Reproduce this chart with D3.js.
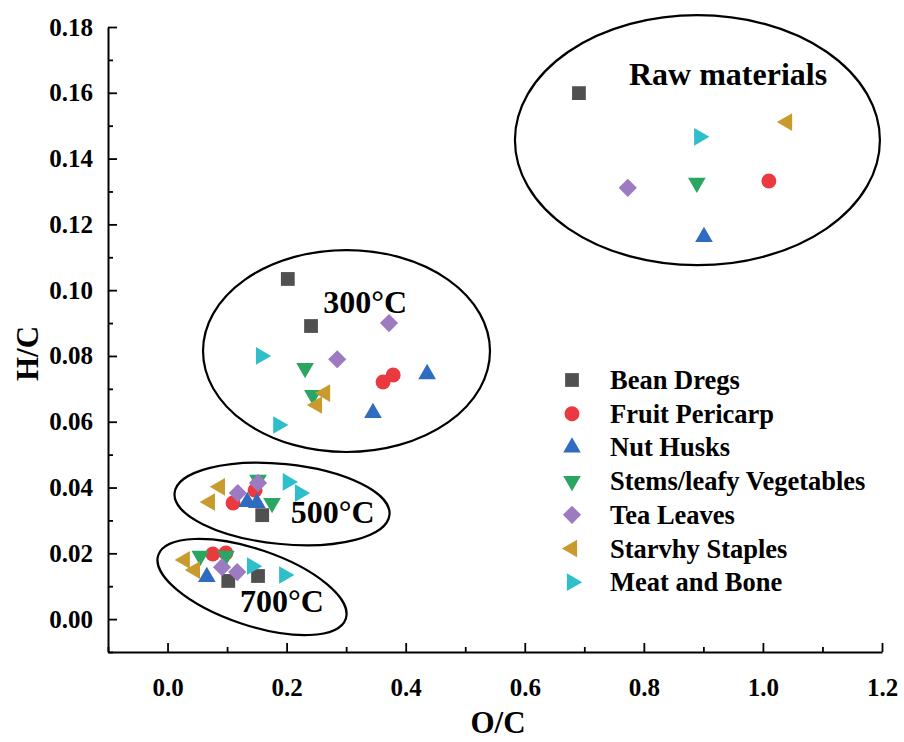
<!DOCTYPE html>
<html>
<head>
<meta charset="utf-8">
<script src="https://cdn.jsdelivr.net/npm/d3@7"></script>
<style>
  html, body { margin: 0; padding: 0; background: #fff; }
  svg { display: block; }
  text { font-family: "Liberation Serif", "Times New Roman", serif; font-weight: bold; fill: #000; }
</style>
</head>
<body>
<svg id="chart" width="904" height="742"></svg>
<script>
// ---------- data (O/C, H/C) ----------
const categories = ["Bean Dregs", "Fruit Pericarp", "Nut Husks", "Stems/leafy Vegetables",
                    "Tea Leaves", "Starvhy Staples", "Meat and Bone"];

const beanDregs = [[0.691, 0.1599], [0.202, 0.1034], [0.241, 0.0891], [0.159, 0.0316],
                   [0.102, 0.0116], [0.152, 0.0131]];
const fruitPericarp = [[1.010, 0.1332], [0.362, 0.0721], [0.379, 0.0742], [0.110, 0.0353],
                       [0.147, 0.0392], [0.076, 0.0198], [0.098, 0.0201]];
const nutHusks = [[0.901, 0.1162], [0.436, 0.0745], [0.345, 0.0627], [0.134, 0.0356],
                  [0.150, 0.0353], [0.066, 0.0128]];
const stemsLeafy = [[0.889, 0.1326], [0.231, 0.0763], [0.244, 0.0681], [0.152, 0.0423],
                    [0.1755, 0.0353], [0.055, 0.0192], [0.098, 0.0192]];
const teaLeaves = [[0.773, 0.1311], [0.372, 0.0900], [0.285, 0.0790], [0.118, 0.0383],
                   [0.152, 0.0414], [0.0915, 0.0158], [0.117, 0.0143]];
const starchyStaples = [[1.0405, 0.1511], [0.2645, 0.0687], [0.251, 0.0651], [0.088, 0.0402],
                        [0.071, 0.0356], [0.029, 0.0180], [0.046, 0.0149]];
const meatBone = [[0.893, 0.1466], [0.157, 0.0800], [0.186, 0.0590], [0.202, 0.0417],
                  [0.2225, 0.0383], [0.142, 0.0161], [0.196, 0.0134]];

const seriesValues = [beanDregs, fruitPericarp, nutHusks, stemsLeafy, teaLeaves, starchyStaples, meatBone];

const xTicks = [0.0, 0.2, 0.4, 0.6, 0.8, 1.0, 1.2];
const xTickLabels = ["0.0", "0.2", "0.4", "0.6", "0.8", "1.0", "1.2"];
const yTicks = [0.00, 0.02, 0.04, 0.06, 0.08, 0.10, 0.12, 0.14, 0.16, 0.18];
const yTickLabels = ["0.00", "0.02", "0.04", "0.06", "0.08", "0.10", "0.12", "0.14", "0.16", "0.18"];

// group annotations (data units): centre, semi-axes, rotation, label
const groupNames = ["Raw materials", "300°C", "500°C", "700°C"];
const groupCenters = [[0.890, 0.1456], [0.3006, 0.0815], [0.1923, 0.0350], [0.1419, 0.00976]];
const groupRadii = [[0.3065, 0.0380], [0.241, 0.0307], [0.1814, 0.01216], [0.1663, 0.01155]];
const groupRotation = [0, 0, 5.8, 18.8];
const groupLabelAt = [[0.775, 0.1624], [0.2615, 0.0931], [0.207, 0.0292], [0.1215, 0.0022]];

// ---------- styles ----------
const colors = ["#505050", "#ea3a40", "#2f6cc0", "#2aa562", "#9c7bc0", "#c99a2e", "#2ebfca"];
const shapes = [
  { type: d3.symbolSquare, size: 190, rot: 0 },
  { type: d3.symbolCircle, size: 175, rot: 0 },
  { type: d3.symbolTriangle, size: 135, rot: 0 },
  { type: d3.symbolTriangle, size: 135, rot: 180 },
  { type: d3.symbolSquare, size: 165, rot: 45 },
  { type: d3.symbolTriangle, size: 135, rot: -90 },
  { type: d3.symbolTriangle, size: 135, rot: 90 }
];

// ---------- layout ----------
const svg = d3.select("#chart");
const x = d3.scaleLinear().domain([-0.1, 1.2]).range([108, 882]);
const y = d3.scaleLinear().domain([-0.01, 0.18]).range([652, 27]);

// axes
const xMinor = d3.range(-0.1, 1.2001, 0.1).map(v => +v.toFixed(2)).filter(v => !xTicks.some(t => Math.abs(t - v) < 1e-6));
const yMinor = d3.range(-0.01, 0.1801, 0.01).map(v => +v.toFixed(3)).filter(v => !yTicks.some(t => Math.abs(t - v) < 1e-6));

svg.append("g").attr("transform", `translate(0,${y(-0.01)})`)
  .call(d3.axisBottom(x).tickValues(xTicks).tickSizeInner(-9).tickSizeOuter(0)
        .tickPadding(26).tickFormat((d, i) => xTickLabels[i]));
svg.append("g").attr("transform", `translate(0,${y(-0.01)})`)
  .call(d3.axisBottom(x).tickValues(xMinor).tickSizeInner(-5).tickSizeOuter(0).tickFormat(""))
  .select(".domain").remove();
svg.append("g").attr("transform", `translate(${x(-0.1)},0)`)
  .call(d3.axisLeft(y).tickValues(yTicks).tickSizeInner(-9).tickSizeOuter(0)
        .tickPadding(15).tickFormat((d, i) => yTickLabels[i]));
svg.append("g").attr("transform", `translate(${x(-0.1)},0)`)
  .call(d3.axisLeft(y).tickValues(yMinor).tickSizeInner(-5).tickSizeOuter(0).tickFormat(""))
  .select(".domain").remove();

svg.selectAll(".domain").attr("stroke", "#000").attr("stroke-width", 2);
svg.selectAll(".tick line").attr("stroke", "#000").attr("stroke-width", 1.8);
svg.selectAll(".tick text").style("font-family", "'Liberation Serif', serif")
  .style("font-weight", "bold").style("font-size", "25px").attr("fill", "#000");

// axis titles
svg.append("text").attr("x", (x(-0.1) + x(1.2)) / 2 + 3).attr("y", 733)
  .attr("text-anchor", "middle").style("font-size", "31px").text("O/C");
svg.append("text").attr("transform", `translate(38,${(y(-0.01) + y(0.18)) / 2 + 14}) rotate(-90)`)
  .attr("text-anchor", "middle").style("font-size", "31px").text("H/C");

// ellipses
const eg = svg.append("g");
groupNames.forEach((name, i) => {
  const cx = x(groupCenters[i][0]), cy = y(groupCenters[i][1]);
  const rx = x(groupCenters[i][0] + groupRadii[i][0]) - cx;
  const ry = cy - y(groupCenters[i][1] + groupRadii[i][1]);
  eg.append("ellipse").attr("cx", cx).attr("cy", cy).attr("rx", rx).attr("ry", ry)
    .attr("transform", `rotate(${groupRotation[i]},${cx},${cy})`)
    .attr("fill", "none").attr("stroke", "#000").attr("stroke-width", 2.2);
});

// points
const sym = d3.symbol();
seriesValues.forEach((pts, si) => {
  const sh = shapes[si];
  svg.append("g").selectAll("path").data(pts).join("path")
    .attr("d", sym.type(sh.type).size(sh.size)())
    .attr("transform", d => `translate(${x(d[0])},${y(d[1])}) rotate(${sh.rot})`)
    .attr("fill", colors[si]);
});

// group labels
groupNames.forEach((name, i) => {
  svg.append("text").attr("x", x(groupLabelAt[i][0])).attr("y", y(groupLabelAt[i][1]))
    .style("font-size", i === 0 ? "32px" : "32px").text(name);
});

// legend
const lg = svg.append("g");
categories.forEach((name, i) => {
  const ly = 380 + i * 33.7;
  const sh = shapes[i];
  lg.append("path").attr("d", sym.type(sh.type).size(sh.size)())
    .attr("transform", `translate(572,${ly}) rotate(${sh.rot})`).attr("fill", colors[i]);
  lg.append("text").attr("x", 610).attr("y", ly + 9).style("font-size", "26.5px").text(name);
});
</script>
</body>
</html>
